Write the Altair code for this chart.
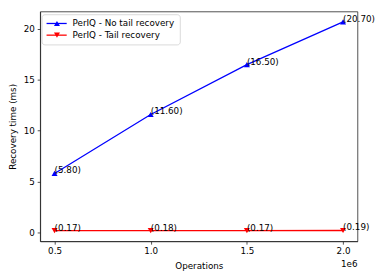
import altair as alt
import pandas as pd

operations = [500000, 1000000, 1500000, 2000000]
no_tail = [5.80, 11.60, 16.50, 20.70]
tail = [0.17, 0.18, 0.17, 0.19]
series_names = ["PerIQ - No tail recovery", "PerIQ - Tail recovery"]
series_colors = ["#0000ff", "#ff0000"]
series_markers = ["triangle-up", "triangle-down"]
x_ticks = [500000, 1000000, 1500000, 2000000]
y_ticks = [0, 5, 10, 15, 20]

rows = []
for o, v in zip(operations, no_tail):
    rows.append({"ops": o, "value": v, "series": series_names[0]})
for o, v in zip(operations, tail):
    rows.append({"ops": o, "value": v, "series": series_names[1]})
df = pd.DataFrame(rows)

FONT = "DejaVu Sans"
FS = 9

x_enc = alt.X("ops:Q",
              scale=alt.Scale(domain=[425000, 2075000], nice=False, zero=False),
              axis=alt.Axis(values=x_ticks, labelExpr="format(datum.value / 1e6, '.1f')",
                            title="Operations", grid=False))
y_enc = alt.Y("value:Q",
              scale=alt.Scale(domain=[-0.8665, 21.7265], nice=False, zero=False),
              axis=alt.Axis(values=y_ticks, title="Recovery time (ms)", grid=False))
color_scale = alt.Scale(domain=series_names, range=series_colors)

base = alt.Chart(df)

lines = base.mark_line(strokeWidth=1.3).encode(
    x=x_enc, y=y_enc,
    color=alt.Color("series:N", scale=color_scale, legend=None),
    detail="series:N",
)

point_layers = []
for name, mk in zip(series_names, series_markers):
    point_layers.append(
        base.transform_filter(alt.datum.series == name).mark_point(
            filled=True, size=38, opacity=1, shape=mk
        ).encode(
            x=x_enc, y=y_enc,
            color=alt.Color("series:N", scale=color_scale, legend=None),
        )
    )

labels = base.mark_text(align="left", baseline="alphabetic", font=FONT,
                        fontSize=FS, color="#000").transform_calculate(
    lbl="'(' + format(datum.value, '.2f') + ')'"
).encode(x=x_enc, y=y_enc, text="lbl:N")

# legend (drawn as a decoration in the top-left corner of the plot)
legend_layers = []
legend_layers.append(
    alt.Chart(pd.DataFrame({"k": [0]})).mark_rect(
        fill="#ffffff", stroke="#cccccc", strokeWidth=0.8, cornerRadius=3, opacity=0.9
    ).encode(x=alt.value(2), x2=alt.value(144), y=alt.value(3.3), y2=alt.value(34.3))
)
for i, (name, col, mk) in enumerate(zip(series_names, series_colors, series_markers)):
    ly = 12.3 + 12 * i
    ldf = pd.DataFrame({"name": [name]})
    legend_layers.append(
        alt.Chart(ldf).mark_rule(color=col, strokeWidth=1.3).encode(
            x=alt.value(6.6), x2=alt.value(27.3), y=alt.value(ly))
    )
    legend_layers.append(
        alt.Chart(ldf).mark_point(filled=True, opacity=1, size=38, shape=mk, color=col).encode(
            x=alt.value(17.3), y=alt.value(ly))
    )
    legend_layers.append(
        alt.Chart(ldf).mark_text(align="left", baseline="middle", font=FONT,
                                 fontSize=FS, color="#000").encode(
            x=alt.value(33.3), y=alt.value(ly), text="name:N")
    )

exp_text = alt.Chart(pd.DataFrame({"t": ["1e6"]})).mark_text(
    align="right", baseline="middle", font=FONT, fontSize=FS, color="#000"
).encode(x=alt.value(326), y=alt.value(259), text="t:N")

chart = alt.layer(lines, *point_layers, labels, *legend_layers, exp_text).properties(
    width=326, height=236,
    autosize=alt.AutoSizeParams(type="none"),
    padding={"left": 33, "top": 0, "right": 18, "bottom": 28},
).configure_view(
    stroke="#222", strokeWidth=0.8
).configure_axis(
    labelFont=FONT, titleFont=FONT, labelFontSize=FS, titleFontSize=FS,
    labelColor="#000", titleColor="#000", titleFontWeight="normal",
    domainColor="#222", domainWidth=0.8, tickColor="#222", tickWidth=0.8,
    tickSize=3, labelPadding=3,
).configure_axisY(
    titlePadding=6
).configure_axisX(
    titlePadding=6
)

chart.save("out.html", embed_options={"renderer": "svg", "actions": False})
